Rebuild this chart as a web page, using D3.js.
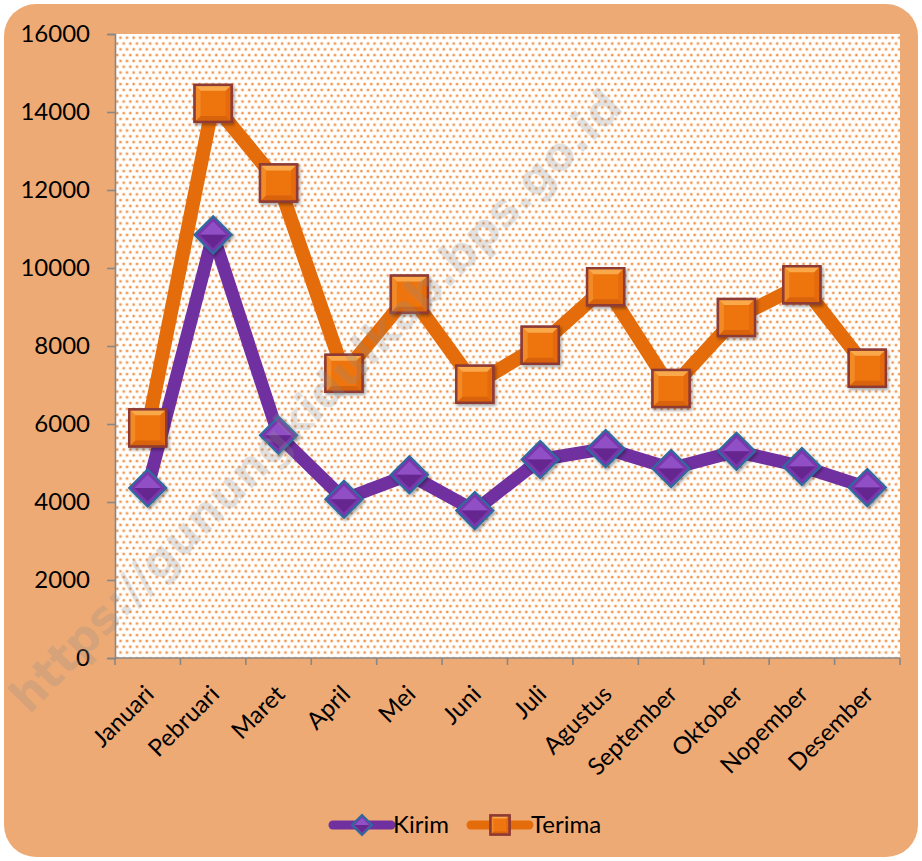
<!DOCTYPE html>
<html><head><meta charset="utf-8">
<script src="https://cdn.jsdelivr.net/npm/d3@7"></script>
<style>html,body{margin:0;padding:0;background:#fff}svg{display:block}</style>
</head><body>
<script>
const months = ["Januari","Pebruari","Maret","April","Mei","Juni","Juli","Agustus","September","Oktober","Nopember","Desember"];
const kirim  = [4360,10850,5710,4070,4700,3780,5090,5370,4860,5300,4910,4370];
const terima = [5900,14220,12180,7300,9330,7020,8020,9520,6910,8730,9570,7430];
const yTicks = [0,2000,4000,6000,8000,10000,12000,14000,16000];
const seriesNames = ["Kirim","Terima"];
const watermark = "https://gunungkidulkab.bps.go.id";

const W = 922, H = 861;
const m = {l:115, r:22, t:34, b:203};
const svg = d3.select("body").append("svg").attr("width",W).attr("height",H);
const defs = svg.append("defs");

const pat = defs.append("pattern").attr("id","dots").attr("patternUnits","userSpaceOnUse")
  .attr("width",6.6).attr("height",11.6);
pat.append("rect").attr("width",6.6).attr("height",11.6).attr("fill","#fff");
[[1.65,2.9],[4.95,8.7]].forEach(([cx,cy])=>{
  pat.append("circle").attr("cx",cx).attr("cy",cy).attr("r",1.8).attr("fill","#FBD8BA");
  pat.append("circle").attr("cx",cx).attr("cy",cy).attr("r",1.0).attr("fill","#EE7F2C");
});
const sh = defs.append("filter").attr("id","shadow").attr("x","-30%").attr("y","-30%").attr("width","170%").attr("height","170%");
sh.append("feDropShadow").attr("dx",1.5).attr("dy",2).attr("stdDeviation",1.5).attr("flood-color","#000").attr("flood-opacity",0.35);

svg.append("rect").attr("x",4).attr("y",4).attr("width",W-8).attr("height",H-8).attr("rx",32).attr("fill","#EEAA74");

const x = d3.scaleBand().domain(months).range([m.l, W-m.r]);
const y = d3.scaleLinear().domain([0,16000]).range([H-m.b, m.t]);

svg.append("rect").attr("x",m.l).attr("y",m.t).attr("width",W-m.r-m.l).attr("height",H-m.b-m.t).attr("fill","url(#dots)");

// axes
const yAx = svg.append("g").attr("transform",`translate(${m.l},0)`)
  .call(d3.axisLeft(y).tickValues(yTicks).tickSize(8).tickPadding(17).tickFormat(d3.format("d")));
yAx.selectAll("text").attr("font-family","Lato, 'Open Sans', sans-serif").attr("font-size",24).attr("fill","#000");
const xAx = svg.append("g").attr("transform",`translate(0,${H-m.b})`)
  .call(d3.axisBottom(x).tickSize(7).tickFormat(""));
[yAx,xAx].forEach(g=>{g.selectAll("path,line").attr("stroke","#878787").attr("stroke-width",1.6);});
xAx.selectAll(".tick").remove();
const edges = months.map(d=>x(d)).concat([x(months[11])+x.bandwidth()]);
xAx.selectAll("line.edge").data(edges).enter().append("line").attr("class","edge")
  .attr("x1",d=>d).attr("x2",d=>d).attr("y1",0).attr("y2",7).attr("stroke","#878787").attr("stroke-width",1.6);
xAx.select(".domain").attr("d",`M${m.l},0H${W-m.r}`);

svg.append("g").selectAll("text").data(months).enter().append("text")
  .attr("transform",d=>`translate(${x(d)+x.bandwidth()/2+1},${H-m.b+31}) rotate(-45)`)
  .attr("text-anchor","end").attr("dominant-baseline","central")
  .attr("font-family","Lato, 'Open Sans', sans-serif").attr("font-size",24).attr("fill","#000")
  .text(d=>d);

const cx = (d,i)=>x(months[i])+x.bandwidth()/2;
const line = d3.line().x((d,i)=>cx(d,i)).y(d=>y(d));

svg.append("path").datum(kirim).attr("d",line).attr("fill","none").attr("stroke","#7030A0").attr("stroke-width",13).attr("stroke-linejoin","round");
svg.append("path").datum(terima).attr("d",line).attr("fill","none").attr("stroke","#E46C0A").attr("stroke-width",14).attr("stroke-linejoin","round");

function diamond(g, s){
  const h=s/2, b=s*0.14;
  g.append("path").attr("d",`M0,${-h}L${h},0L0,${h}L${-h},0Z`).attr("fill","#7B36AC").attr("stroke","#2F6A9E").attr("stroke-width",2.2);
  g.append("path").attr("d",`M0,${-h+b}L${h-b},0L${-h+b},0Z`).attr("fill","#9150C6");
  g.append("path").attr("d",`M0,${h-b}L${h-b},0L${-h+b},0Z`).attr("fill","#66288F");
}
function square(g, s){
  const h=s/2, b=s*0.16;
  g.append("rect").attr("x",-h).attr("y",-h).attr("width",s).attr("height",s).attr("fill","#EE7510").attr("stroke","#8E3A34").attr("stroke-width",2.4);
  g.append("path").attr("d",`M${-h},${-h}H${h}L${h-b},${-h+b}H${-h+b}Z`).attr("fill","#F9A94A");
  g.append("path").attr("d",`M${-h},${h}H${h}L${h-b},${h-b}H${-h+b}Z`).attr("fill","#D9620A");
  g.append("path").attr("d",`M${-h},${-h}L${-h+b},${-h+b}V${h-b}L${-h},${h}Z`).attr("fill","#F28A28");
  g.append("path").attr("d",`M${h},${-h}L${h-b},${-h+b}V${h-b}L${h},${h}Z`).attr("fill","#E46A0C");
  g.append("rect").attr("x",-h).attr("y",-h).attr("width",s).attr("height",s).attr("fill","none").attr("stroke","#8E3A34").attr("stroke-width",2.4);
}
svg.append("g").selectAll("g").data(kirim).enter().append("g")
  .attr("transform",(d,i)=>`translate(${cx(d,i)},${y(d)})`).attr("filter","url(#shadow)")
  .each(function(){diamond(d3.select(this),37);});
svg.append("g").selectAll("g").data(terima).enter().append("g")
  .attr("transform",(d,i)=>`translate(${cx(d,i)},${y(d)})`).attr("filter","url(#shadow)")
  .each(function(){square(d3.select(this),37);});

// legend
const lg = svg.append("g").attr("font-family","Lato, 'Open Sans', sans-serif").attr("font-size",24);
const items = [{name:seriesNames[0],x0:333,col:"#7030A0",mk:diamond},{name:seriesNames[1],x0:471,col:"#E46C0A",mk:square}];
items.forEach(it=>{
  const g = lg.append("g").attr("transform",`translate(${it.x0},825)`);
  g.append("line").attr("x1",0).attr("x2",58).attr("stroke",it.col).attr("stroke-width",9).attr("stroke-linecap","round");
  const mg = g.append("g").attr("transform","translate(29,0)");
  it.mk(mg, it.mk===diamond?20:19);
  g.append("text").attr("x",60).attr("y",8).attr("fill","#000").text(it.name);
});

// watermark
svg.append("text").attr("transform","translate(327,412) rotate(-45.5)")
  .attr("text-anchor","middle").attr("font-family","'DejaVu Sans', sans-serif").attr("font-weight","bold")
  .attr("font-size",46).attr("textLength",850).attr("lengthAdjust","spacingAndGlyphs")
  .attr("fill","rgb(140,140,140)").attr("fill-opacity",0.25).text(watermark);
</script>
</body></html>
